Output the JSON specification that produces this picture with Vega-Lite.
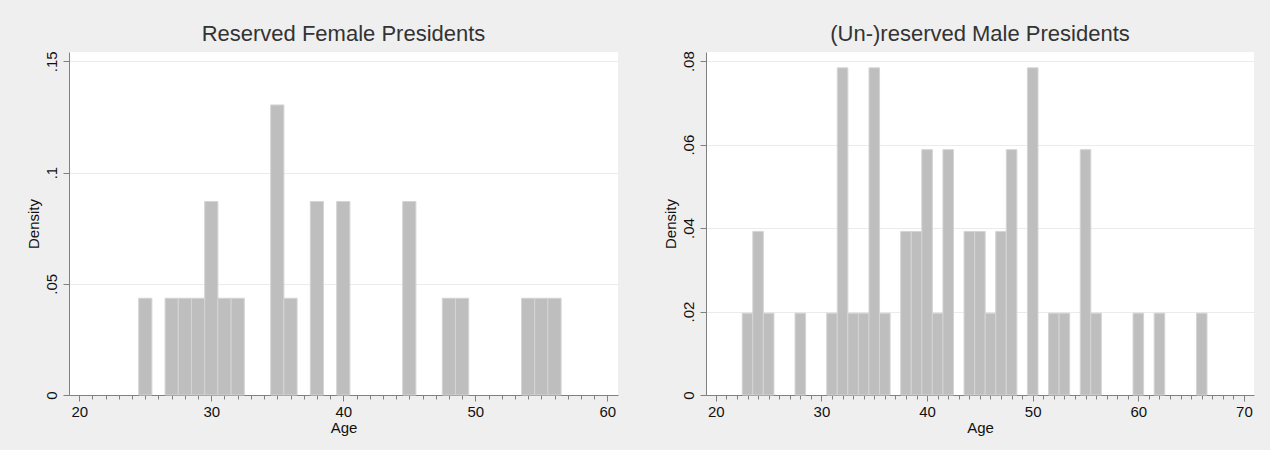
{
  "$schema": "https://vega.github.io/schema/vega-lite/v6.json",
  "background": "#efefef",
  "padding": {"left": 25, "top": 22, "right": 16, "bottom": 15},
  "spacing": 45,
  "config": {
    "font": "Liberation Sans",
    "view": {"fill": "white", "stroke": null},
    "title": {"fontSize": 22, "fontWeight": "normal", "color": "#333333", "offset": 5, "anchor": "middle"},
    "axis": {
      "domainColor": "#808080",
      "tickColor": "#808080",
      "labelColor": "#111111",
      "titleColor": "#111111",
      "labelFontSize": 15,
      "titleFontSize": 15,
      "titleFontWeight": "normal",
      "labelOverlap": false,
      "labelFlush": false,
      "gridColor": "#ebebeb",
      "gridWidth": 1
    }
  },
  "datasets": {
    "female": [
      {"age": 25, "density": 0.0435},
      {"age": 27, "density": 0.0435},
      {"age": 28, "density": 0.0435},
      {"age": 29, "density": 0.0435},
      {"age": 30, "density": 0.087},
      {"age": 31, "density": 0.0435},
      {"age": 32, "density": 0.0435},
      {"age": 35, "density": 0.1304},
      {"age": 36, "density": 0.0435},
      {"age": 38, "density": 0.087},
      {"age": 40, "density": 0.087},
      {"age": 45, "density": 0.087},
      {"age": 48, "density": 0.0435},
      {"age": 49, "density": 0.0435},
      {"age": 54, "density": 0.0435},
      {"age": 55, "density": 0.0435},
      {"age": 56, "density": 0.0435}
    ],
    "male": [
      {"age": 23, "density": 0.0196},
      {"age": 24, "density": 0.0392},
      {"age": 25, "density": 0.0196},
      {"age": 28, "density": 0.0196},
      {"age": 31, "density": 0.0196},
      {"age": 32, "density": 0.0784},
      {"age": 33, "density": 0.0196},
      {"age": 34, "density": 0.0196},
      {"age": 35, "density": 0.0784},
      {"age": 36, "density": 0.0196},
      {"age": 38, "density": 0.0392},
      {"age": 39, "density": 0.0392},
      {"age": 40, "density": 0.0588},
      {"age": 41, "density": 0.0196},
      {"age": 42, "density": 0.0588},
      {"age": 44, "density": 0.0392},
      {"age": 45, "density": 0.0392},
      {"age": 46, "density": 0.0196},
      {"age": 47, "density": 0.0392},
      {"age": 48, "density": 0.0588},
      {"age": 50, "density": 0.0784},
      {"age": 52, "density": 0.0196},
      {"age": 53, "density": 0.0196},
      {"age": 55, "density": 0.0588},
      {"age": 56, "density": 0.0196},
      {"age": 60, "density": 0.0196},
      {"age": 62, "density": 0.0196},
      {"age": 66, "density": 0.0196}
    ]
  },
  "hconcat": [
    {
      "title": "Reserved Female Presidents",
      "width": 549,
      "height": 343,
      "data": {"name": "female"},
      "transform": [
        {"bin": {"step": 1, "anchor": 0.5, "extent": [0.5, 100.5], "nice": false}, "field": "age", "as": ["lo", "hi"]}
      ],
      "mark": {"type": "bar", "fill": "#bebebe", "stroke": "#d4d4d4", "strokeWidth": 1},
      "encoding": {
        "x": {
          "field": "lo", "type": "quantitative", "title": "Age",
          "scale": {"domain": [19.22, 60.81], "nice": false, "zero": false},
          "axis": {
            "values": [20,21,22,23,24,25,26,27,28,29,30,31,32,33,34,35,36,37,38,39,40,41,42,43,44,45,46,47,48,49,50,51,52,53,54,55,56,57,58,59,60],
            "labelExpr": "datum.value % 10 === 0 ? datum.label : ''",
            "tickSize": {"condition": {"test": "datum.value % 10 === 0", "value": 6}, "value": 4},
            "grid": false,
            "labelPadding": 3,
            "titlePadding": 1
          }
        },
        "x2": {"field": "hi"},
        "y": {
          "field": "density", "type": "quantitative", "title": "Density",
          "scale": {"domain": [0, 0.1542], "nice": false},
          "axis": {
            "values": [0, 0.05, 0.1, 0.15],
            "labelExpr": "datum.value == 0 ? '0' : substring(format(datum.value, '~g'), 1)",
            "labelAngle": -90,
            "labelAlign": "center",
            "labelBaseline": "bottom",
            "labelPadding": 4,
            "tickSize": 6,
            "grid": true,
            "titlePadding": 3
          }
        },
        "y2": {"datum": 0}
      }
    },
    {
      "title": "(Un-)reserved Male Presidents",
      "width": 548,
      "height": 343,
      "data": {"name": "male"},
      "transform": [
        {"bin": {"step": 1, "anchor": 0.5, "extent": [0.5, 100.5], "nice": false}, "field": "age", "as": ["lo", "hi"]}
      ],
      "mark": {"type": "bar", "fill": "#bebebe", "stroke": "#d4d4d4", "strokeWidth": 1},
      "encoding": {
        "x": {
          "field": "lo", "type": "quantitative", "title": "Age",
          "scale": {"domain": [19.07, 70.95], "nice": false, "zero": false},
          "axis": {
            "values": [20,21,22,23,24,25,26,27,28,29,30,31,32,33,34,35,36,37,38,39,40,41,42,43,44,45,46,47,48,49,50,51,52,53,54,55,56,57,58,59,60,61,62,63,64,65,66,67,68,69,70],
            "labelExpr": "datum.value % 10 === 0 ? datum.label : ''",
            "tickSize": {"condition": {"test": "datum.value % 10 === 0", "value": 6}, "value": 4},
            "grid": false,
            "labelPadding": 3,
            "titlePadding": 1
          }
        },
        "x2": {"field": "hi"},
        "y": {
          "field": "density", "type": "quantitative", "title": "Density",
          "scale": {"domain": [0, 0.0822], "nice": false},
          "axis": {
            "values": [0, 0.02, 0.04, 0.06, 0.08],
            "labelExpr": "datum.value == 0 ? '0' : substring(format(datum.value, '~g'), 1)",
            "labelAngle": -90,
            "labelAlign": "center",
            "labelBaseline": "bottom",
            "labelPadding": 4,
            "tickSize": 6,
            "grid": true,
            "titlePadding": 3
          }
        },
        "y2": {"datum": 0}
      }
    }
  ]
}
